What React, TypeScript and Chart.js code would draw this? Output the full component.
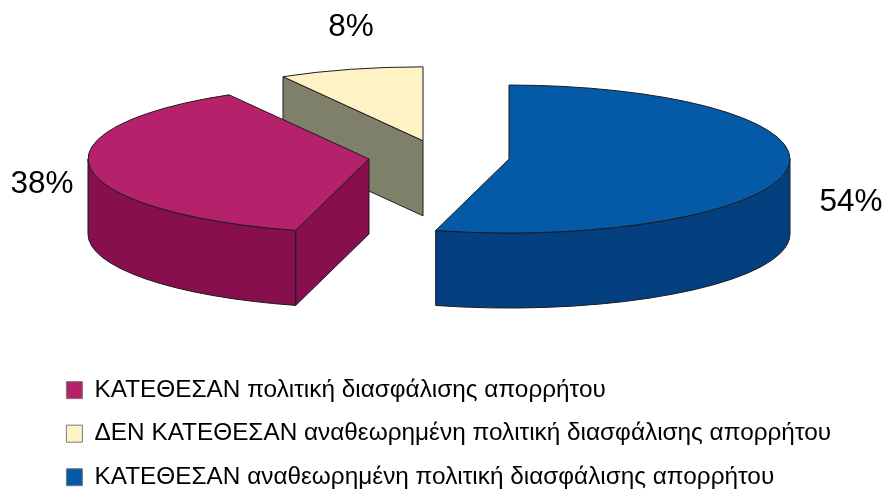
import React, { useEffect, useRef } from "react";
import { Chart, registerables, DoughnutController } from "chart.js";

Chart.register(...registerables);

const categories = [
  "ΚΑΤΕΘΕΣΑΝ πολιτική διασφάλισης απορρήτου",
  "ΔΕΝ ΚΑΤΕΘΕΣΑΝ αναθεωρημένη πολιτική διασφάλισης απορρήτου",
  "ΚΑΤΕΘΕΣΑΝ αναθεωρημένη πολιτική διασφάλισης απορρήτου",
];
const shares = [37.5, 8.3, 54.2];
const topColors = ["#B5226B", "#FFF2C4", "#055AA8"];
const sideColors = ["#870F4E", "#7F8069", "#043F80"];
const explode = [70.6, 62, 70.6];

const FONT = "'Liberation Sans', Arial, sans-serif";
const CENTER_X = 439;
const CENTER_Y = 156.6;
const TILT = 0.2633;
const DEPTH = 75;
const EDGE = "#1c1c1c";
const labelShift = [
  { x: -327, y: 25.4 },
  { x: -72, y: -113.6 },
  { x: 342, y: 42.8 },
];

class Pie3DController extends DoughnutController {
  static id = "pie3d";
  draw() {
    const ctx = this.chart.ctx;
    const arcs: any[] = this.getMeta().data as any[];
    const placed = arcs.map((arc, i) => {
      const mid = (arc.startAngle + arc.endAngle) / 2;
      return {
        arc,
        i,
        cx: CENTER_X + Math.cos(mid) * explode[i],
        cy: CENTER_Y + Math.sin(mid) * explode[i] * TILT,
      };
    });
    placed.sort((a, b) => a.cy - b.cy);
    placed.forEach(({ arc, i, cx, cy }) => {
      const r = arc.outerRadius;
      const ry = r * TILT;
      const a0 = arc.startAngle;
      const a1 = arc.endAngle;
      ctx.save();
      ctx.lineWidth = 1;
      ctx.lineJoin = "round";
      ctx.strokeStyle = EDGE;
      ctx.fillStyle = sideColors[i];
      const face = (a: number) => {
        const px = cx + Math.cos(a) * r;
        const py = cy + Math.sin(a) * ry;
        ctx.beginPath();
        ctx.moveTo(cx, cy);
        ctx.lineTo(px, py);
        ctx.lineTo(px, py + DEPTH);
        ctx.lineTo(cx, cy + DEPTH);
        ctx.closePath();
        ctx.fill();
        ctx.stroke();
      };
      if (Math.cos(a0) < -1e-6) face(a0);
      if (Math.cos(a1) > 1e-6) face(a1);
      for (let n = 0; n < 2; n++) {
        const lo = Math.max(a0, 2 * Math.PI * n);
        const hi = Math.min(a1, 2 * Math.PI * n + Math.PI);
        if (hi > lo) {
          ctx.beginPath();
          ctx.ellipse(cx, cy, r, ry, 0, lo, hi);
          ctx.ellipse(cx, cy + DEPTH, r, ry, 0, hi, lo, true);
          ctx.closePath();
          ctx.fill();
          ctx.stroke();
        }
      }
      ctx.restore();

      ctx.save();
      ctx.translate(cx, cy);
      ctx.scale(1, TILT);
      ctx.translate(-arc.x, -arc.y);
      arc.draw(ctx);
      ctx.restore();

      ctx.save();
      ctx.lineWidth = 1;
      ctx.strokeStyle = EDGE;
      ctx.beginPath();
      ctx.moveTo(cx, cy);
      ctx.ellipse(cx, cy, r, ry, 0, a0, a1);
      ctx.closePath();
      ctx.stroke();
      ctx.restore();
    });
  }
}
Chart.register(Pie3DController);

const percentLabels = {
  id: "percentLabels",
  afterDraw(chart: any) {
    const ctx = chart.ctx;
    const arcs = chart.getDatasetMeta(0).data;
    ctx.save();
    ctx.font = `31.5px ${FONT}`;
    ctx.fillStyle = "#000";
    ctx.textAlign = "center";
    ctx.textBaseline = "middle";
    arcs.forEach((arc: any, i: number) => {
      const mid = (arc.startAngle + arc.endAngle) / 2;
      const cx = CENTER_X + Math.cos(mid) * explode[i];
      const cy = CENTER_Y + Math.sin(mid) * explode[i] * TILT;
      ctx.fillText(`${Math.round(shares[i])}%`, cx + labelShift[i].x, cy + labelShift[i].y);
    });
    ctx.restore();
  },
};

export default function App() {
  const ref = useRef<HTMLCanvasElement>(null);
  useEffect(() => {
    const chart = new Chart(ref.current!, {
      type: "pie3d" as any,
      data: {
        labels: categories,
        datasets: [
          {
            data: shares,
            backgroundColor: topColors,
            borderWidth: 0,
          } as any,
        ],
      },
      options: {
        responsive: false,
        animation: false,
        cutout: 0,
        radius: 281,
        rotation: 195.12,
        layout: { padding: { left: 47.2, bottom: -9.4, top: 0, right: 0 } },
        plugins: {
          tooltip: { enabled: false },
          legend: {
            position: "bottom",
            align: "start",
            labels: {
              color: "#000",
              font: { family: FONT, size: 24.35 },
              boxWidth: 16,
              boxHeight: 17,
              padding: 19.2,
              generateLabels() {
                return categories.map((text, i) => ({
                  text,
                  fillStyle: topColors[i],
                  strokeStyle: "#7a7a7a",
                  lineWidth: 1,
                  index: i,
                  hidden: false,
                }));
              },
            },
          },
        },
      } as any,
      plugins: [percentLabels],
    });
    return () => chart.destroy();
  }, []);
  return (
    <div style={{ position: "fixed", left: 0, top: 0, width: 885, height: 490, overflow: "hidden", background: "#fff" }}>
      <canvas ref={ref} width={885} height={490} style={{ display: "block" }} />
    </div>
  );
}
